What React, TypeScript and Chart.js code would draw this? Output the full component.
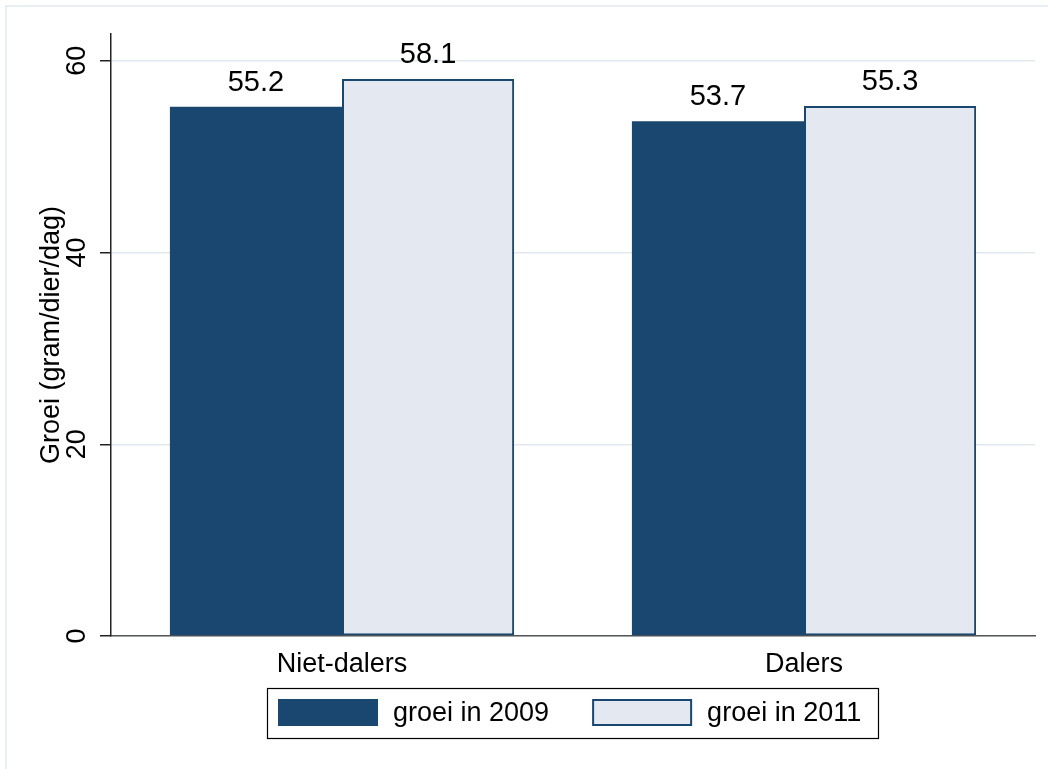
import React, { useEffect, useRef } from "react";
import { Chart, registerables } from "chart.js";

Chart.register(...registerables);

const categories = ["Niet-dalers", "Dalers"];
const seriesLabels = ["groei in 2009", "groei in 2011"];
const groei2009 = [55.2, 53.7];
const groei2011 = [58.1, 55.3];
const yTicks = [0, 20, 40, 60];
const yMax = 62.8;
const yTitle = "Groei (gram/dier/dag)";

const FONT = '"Liberation Sans", Arial, Helvetica, sans-serif';
const NAVY = "#1a476f";
const LIGHT = "#e4e9f1";
const GRID = "#e2e9ee";

const stataPlugin = {
  id: "stataDecor",
  beforeDraw(chart: any) {
    const ctx = chart.ctx;
    ctx.save();
    ctx.fillStyle = "#ffffff";
    ctx.fillRect(0, 0, chart.width, chart.height);
    ctx.strokeStyle = GRID;
    ctx.lineWidth = 1.5;
    ctx.strokeRect(6, 6, chart.width + 40, chart.height + 40);
    ctx.restore();
  },
  afterDraw(chart: any) {
    const ctx = chart.ctx;
    const ys = chart.scales.y;
    const area = chart.chartArea;
    ctx.save();

    // y tick labels, rotated
    ctx.font = `27px ${FONT}`;
    ctx.fillStyle = "#000";
    ctx.textAlign = "center";
    ctx.textBaseline = "middle";
    ys.ticks.forEach((t: any) => {
      const py = ys.getPixelForValue(t.value);
      ctx.save();
      ctx.translate(ys.right - 33, py);
      ctx.rotate(-Math.PI / 2);
      ctx.fillText(String(t.value), 0, 0);
      ctx.restore();
    });

    // value labels above bars
    ctx.font = `29px ${FONT}`;
    ctx.textAlign = "center";
    ctx.textBaseline = "alphabetic";
    chart.data.datasets.forEach((ds: any, i: number) => {
      const meta = chart.getDatasetMeta(i);
      meta.data.forEach((el: any, j: number) => {
        ctx.fillText(Number(ds.data[j]).toFixed(1), el.x, el.y - 16);
      });
    });

    // legend with frame, centred under plot area
    const datasets = chart.data.datasets;
    ctx.font = `27px ${FONT}`;
    const sw = 100, sh = 27, padL = 11, padR = 17, gap = 15, itemGap = 43, boxH = 50, inset = 11;
    const widths = datasets.map((ds: any) => ctx.measureText(ds.label).width);
    const total =
      padL + padR + widths.reduce((a: number, w: number) => a + sw + gap + w, 0) + itemGap * (datasets.length - 1);
    const left = Math.round((area.left + area.right) / 2 - total / 2);
    const top = Math.round(area.bottom + 52);
    ctx.strokeStyle = "#000";
    ctx.lineWidth = 1.2;
    ctx.strokeRect(left + 0.5, top + 0.5, Math.round(total), boxH);
    let x = left + padL;
    datasets.forEach((ds: any, i: number) => {
      ctx.fillStyle = ds.backgroundColor;
      ctx.fillRect(x, top + inset, sw, sh);
      const lw = ds.borderWidth || 0;
      if (lw > 0) {
        ctx.strokeStyle = ds.borderColor;
        ctx.lineWidth = lw;
        ctx.strokeRect(x + lw / 2, top + inset + lw / 2, sw - lw, sh - lw);
      }
      ctx.fillStyle = "#000";
      ctx.textAlign = "left";
      ctx.textBaseline = "middle";
      ctx.fillText(ds.label, x + sw + gap, top + inset + sh / 2 + 1);
      x += sw + gap + widths[i] + itemGap;
    });

    ctx.restore();
  },
};

export default function App() {
  const canvasRef = useRef<HTMLCanvasElement | null>(null);

  useEffect(() => {
    document.body.style.margin = "0";
    const canvas = canvasRef.current;
    if (!canvas) return;
    const chart = new Chart(canvas, {
      type: "bar",
      data: {
        labels: categories,
        datasets: [
          {
            label: seriesLabels[0],
            data: groei2009,
            backgroundColor: NAVY,
            borderColor: NAVY,
            borderWidth: 0,
            barPercentage: 1,
            categoryPercentage: 0.745,
          },
          {
            label: seriesLabels[1],
            data: groei2011,
            backgroundColor: LIGHT,
            borderColor: NAVY,
            borderWidth: 2,
            borderSkipped: false,
            barPercentage: 1,
            categoryPercentage: 0.745,
          },
        ],
      },
      options: {
        animation: false,
        responsive: false,
        layout: { padding: { top: 34, right: 13, left: 0, bottom: 0 } },
        plugins: {
          legend: { display: false },
          tooltip: { enabled: false },
        },
        scales: {
          x: {
            grid: { display: false, drawTicks: false },
            border: { display: true, color: "#555", width: 1.5 },
            ticks: {
              font: { family: FONT, size: 27 },
              color: "#000",
              padding: 12,
              maxRotation: 0,
              minRotation: 0,
            },
            afterFit: (s: any) => {
              s.height = 133;
            },
          },
          y: {
            min: 0,
            max: yMax,
            afterBuildTicks: (s: any) => {
              s.ticks = yTicks.map((v) => ({ value: v }));
            },
            grid: {
              color: GRID,
              lineWidth: 1.5,
              drawTicks: true,
              tickLength: 11,
              tickColor: "#222",
              tickWidth: 1.5,
            },
            border: { display: true, color: "#222", width: 1.5 },
            ticks: { display: false },
            title: {
              display: true,
              text: yTitle,
              font: { family: FONT, size: 27 },
              color: "#000",
              padding: { top: 35, bottom: 0 },
            },
            afterFit: (s: any) => {
              s.width = 111;
            },
          },
        },
      },
      plugins: [stataPlugin],
    } as any);
    return () => chart.destroy();
  }, []);

  return (
    <div style={{ width: 1048, height: 769 }}>
      <canvas ref={canvasRef} width={1048} height={769} style={{ display: "block" }} />
    </div>
  );
}
